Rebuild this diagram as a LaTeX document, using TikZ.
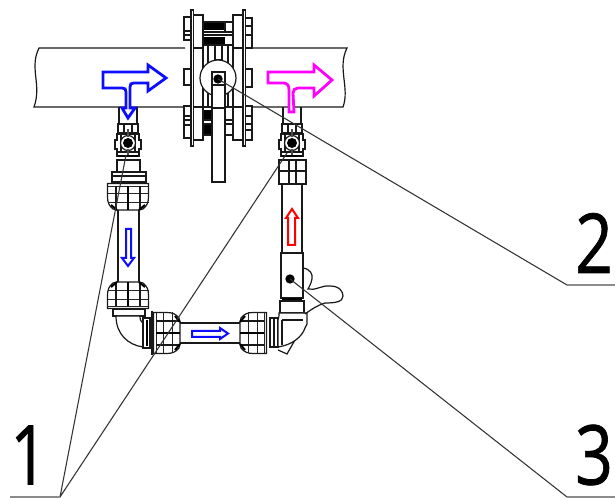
\documentclass[tikz,border=0pt]{standalone}
\usepackage{fontspec}
\setmainfont{Open Sans}
\newfontfamily\digitfont[FakeBold=0.9]{Open Sans}
\definecolor{flowblue}{rgb}{0.05,0.05,1}
\definecolor{flowpink}{rgb}{1,0,1}
\definecolor{flowred}{rgb}{1,0,0}
\tikzset{
  px/.style={x=0.75pt,y=-0.75pt},
  part/.style={draw=black!90,line width=0.9pt},
  fine/.style={draw=black!85,line width=0.6pt},
  heavy/.style={draw=black,line width=1.5pt},
  flow/.style={line width=2.1pt,line join=miter,fill=white},
  slimflow/.style={line width=1.5pt,line join=miter,fill=white},
  leader/.style={draw=black!80,line width=0.8pt},
  baseline rule/.style={draw=black!45,line width=0.8pt},
  dotmark/.style={circle,fill=black,inner sep=0pt,minimum size=7pt},
  digit/.style={font=\digitfont\fontsize{62pt}{62pt}\selectfont,inner sep=0pt,xscale=0.8,text=black}
}
% tapered union nut; local y 0 = narrow end, 26 = wide end
\newcommand{\gridnut}[1]{%
  \begin{scope}[#1]
    \draw[part,fill=white] (-11,0) -- (-15,1) .. controls (-19,4) and (-20.5,8) .. (-20.5,13) -- (-20.5,26.5) -- (20.5,26.5) -- (20.5,13) .. controls (20.5,8) and (19,4) .. (15,1) -- (11,0) -- cycle;
    \draw[fine] (-20.5,8) -- (20.5,8) (-20.5,17) -- (20.5,17) (-20.5,24) -- (20.5,24);
    \draw[part] (-12,1) -- (-12,24) (12,1) -- (12,24);
    \draw[heavy] (0,0) -- (0,24);
    \draw[heavy] (-17,5) -- (-11,0) (17,5) -- (11,0);
  \end{scope}}
% ball valve body, centre given
\newcommand{\ballvalve}[2]{%
  \begin{scope}[shift={(#1,#2)}]
    \draw[part,fill=white] (-10,-19) rectangle (10,-10);
    \draw[part] (-4,-19) -- (-4,-10) (4,-19) -- (4,-10);
    \draw[part,fill=white] (-11,-9) -- (11,-9) -- (11,-3) -- (13,-3) -- (13,6) -- (11,6) -- (11,9) -- (-11,9) -- (-11,6) -- (-13,6) -- (-13,-3) -- (-11,-3) -- cycle;
    \draw[part] (-7,-10) -- (-7,9) (7,-10) -- (7,9);
    \draw[part,fill=white] (0,0) circle (7.5);
    \fill (0,0) circle (5);
    \draw[heavy,draw=black!70] (0,-14) -- (0,-6) (0,6) -- (0,14);
    \draw[heavy] (-11,13) -- (11,13);
    \draw[part] (-11,9) -- (-11,14) (11,9) -- (11,14);
  \end{scope}}
\begin{document}
\begin{tikzpicture}[px]
\useasboundingbox (0,0) rectangle (615,498);
\fill[white] (0,0) rectangle (615,498);

% main pipe
\draw[part] (185,48) -- (39,48) .. controls (29,68) and (42,85) .. (34,107) -- (185,107);
\draw[part] (252,48) -- (347,48) .. controls (337,68) and (350,88) .. (343,107) -- (252,107);

% damper: black bands and interior
\fill[black] (203,22) rectangle (225,30);
\fill[black] (203,37) rectangle (225,45);
\fill[black] (203,110) rectangle (211,120);
\fill[black] (203,125) rectangle (211,135);
\draw[part] (203,22) -- (233,22) (203,32) -- (233,32) (203,35) -- (233,35) (203,45) -- (233,45);
\draw[part] (203,107) -- (233,107) (203,120) -- (233,120) (203,124) -- (233,124) (203,135) -- (233,135);
\draw[part] (208,45) -- (208,107) (228,45) -- (228,107);
\draw[part] (225,22) -- (225,32);

% flanges
\draw[part,fill=white] (193,15) rectangle (203,140);
\draw[part,fill=white] (233,15) rectangle (243,140);
\draw[part,fill=white] (191,10) rectangle (193.5,146);
\draw[part,fill=white] (243,10) rectangle (245.5,146);
\draw[part] (193,48) -- (203,48) (193,107) -- (203,107) (233,48) -- (243,48) (233,107) -- (243,107);

% flange bolts
\draw[part,fill=white] (184,17) rectangle (191,40);
\draw[part,fill=white] (184,69) rectangle (191,85);
\draw[part,fill=white] (184,106) rectangle (191,138);
\draw[part,fill=white] (245.5,18) rectangle (252,48);
\draw[part,fill=white] (245.5,69) rectangle (252,87);
\draw[part,fill=white] (245.5,106) rectangle (252,140);
\draw[part] (184,31) -- (191,31) (184,35) -- (191,35) (184,116) -- (191,116) (184,120) -- (191,120) (184,125) -- (191,125);
\draw[part] (245.5,26) -- (252,26) (245.5,35) -- (252,35) (245.5,116) -- (252,116) (245.5,124) -- (252,124) (245.5,130) -- (252,130);

% stem, disc and lever
\draw[part,fill=white] (215,45) rectangle (222,60);
\draw[part,fill=white] (218,78) circle (18);
\draw[part,fill=white] (212,72) rectangle (225,182);
\draw[part] (212,85) -- (225,85) (212,108) -- (225,108);

% left line: valve and branch
\draw[part] (119,107) -- (119,125) (137,107) -- (137,125);
\ballvalve{128}{143}
\draw[part,fill=white] (117,160) rectangle (140,172);
\draw[part,fill=white] (112,172) rectangle (146,182);
\draw[part] (112,176) -- (146,176);
\gridnut{shift={(128,210)},y={(0pt,0.75pt)}}
\draw[part] (118,210) -- (118,282) (139,210) -- (139,282);
\gridnut{shift={(128,282)}}
\draw[part,fill=white] (113,309) rectangle (145,316);
\draw[part,fill=white] (116,316) .. controls (116,334) and (128,345) .. (143,347) -- (143,323) .. controls (141,322) and (140,320) .. (140,316) -- cycle;
\draw[part,fill=white] (143,318) rectangle (150,348);
\draw[heavy] (147,320) -- (147,346);
\gridnut{shift={(180,333)},x={(0pt,0.75pt)},y={(-0.75pt,0pt)}}
\draw[part] (152,311) -- (152,355);
\draw[part] (180,323) -- (240,323) (180,343) -- (240,343);
\gridnut{shift={(240,333)},x={(0pt,0.75pt)},y={(0.75pt,0pt)}}

% right line
\draw[part] (283,107) -- (283,123) (301,107) -- (301,123);
\ballvalve{292}{143}
\draw[part,fill=white] (279,160) rectangle (306,184);
\draw[part] (279,171) -- (306,171) (289,160) -- (289,184) (296,160) -- (296,184);
\draw[part] (282,184) -- (282,253) (302,184) -- (302,253);
\draw[part,fill=white] (281,253) rectangle (303,298);
\draw[heavy] (282,299.5) -- (302,299.5);
\draw[part,fill=white] (280,301) rectangle (304,313);
\draw[part,fill=white] (270,318) rectangle (278,347);
\draw[part] (274,318) -- (274,347);
\draw[part,fill=white] (278,350) -- (287,354) -- (295,340);
\draw[part,fill=white] (278,320) .. controls (279,318) and (279,315) .. (279,313) -- (307,313) -- (307,324) -- (305,328) .. controls (302,337) and (292,345) .. (278,347) -- cycle;
\draw[part] (282,320) -- (282,345) (282,320) -- (303,320);
\draw[part] (303,268) .. controls (310,269) and (313,274) .. (312,279) .. controls (311,284) and (309,287) .. (308,289) .. controls (315,291) and (322,285) .. (330,286) .. controls (340,286) and (343,292) .. (343,296) .. controls (343,302) and (335,303) .. (325,303) .. controls (318,305) and (312,309) .. (305,314);

% flow arrows
\draw[flow,draw=flowblue] (103,72) -- (148,72) -- (148,65) -- (166,78) -- (148,91) -- (148,83) -- (134,83) .. controls (131,83) and (130,84) .. (130,87) -- (130,108) -- (135,108) -- (128,118) -- (122,108) -- (126,108) -- (126,92) .. controls (126,89) and (125,88) .. (122,88) -- (103,88) -- cycle;
\draw[flow,draw=flowpink] (268,72) -- (314,72) -- (314,65) -- (332,80) -- (314,96) -- (314,88) -- (298,88) .. controls (295,88) and (293,90) .. (293,93) -- (294,112) -- (289,112) -- (289,90) .. controls (289,85) and (287,83) .. (283,83) -- (268,83) -- cycle;
\draw[slimflow,draw=flowred] (288,245) -- (295,245) -- (295,218) -- (298,218) -- (292,209) -- (286,218) -- (288,218) -- cycle;
\draw[slimflow,draw=flowblue] (126,229) -- (131,229) -- (131,258) -- (134,258) -- (128,266) -- (122,258) -- (126,258) -- cycle;
\draw[slimflow,draw=flowblue] (192,331) -- (220,331) -- (220,328) -- (228,333.5) -- (220,339) -- (220,337) -- (192,337) -- cycle;

% callout marks
\node[dotmark] (mark two) at (218,79) {};
\node[dotmark] (mark three) at (290,279) {};
\coordinate (apex one) at (60,497);
\coordinate (end one a) at (126,155);
\coordinate (end one b) at (287,153);
\coordinate (base one) at (10,497);
\coordinate (knee two) at (567,285);
\coordinate (tail two) at (615,285);
\coordinate (knee three) at (567,497);
\coordinate (tail three) at (615,497);

% labels
\node[digit] (label one) at (29,455) {1};
\node[digit] (label two) at (594,243) {2};
\node[digit] (label three) at (594,455) {3};

% leaders
\draw[leader] (end one a) -- (apex one) -- (end one b);
\draw[baseline rule] (base one) -- (apex one);
\draw[leader] (mark two.center) -- (knee two);
\draw[baseline rule] (knee two) -- (tail two);
\draw[leader] (mark three.center) -- (knee three);
\draw[baseline rule] (knee three) -- (tail three);
\end{tikzpicture}
\end{document}
